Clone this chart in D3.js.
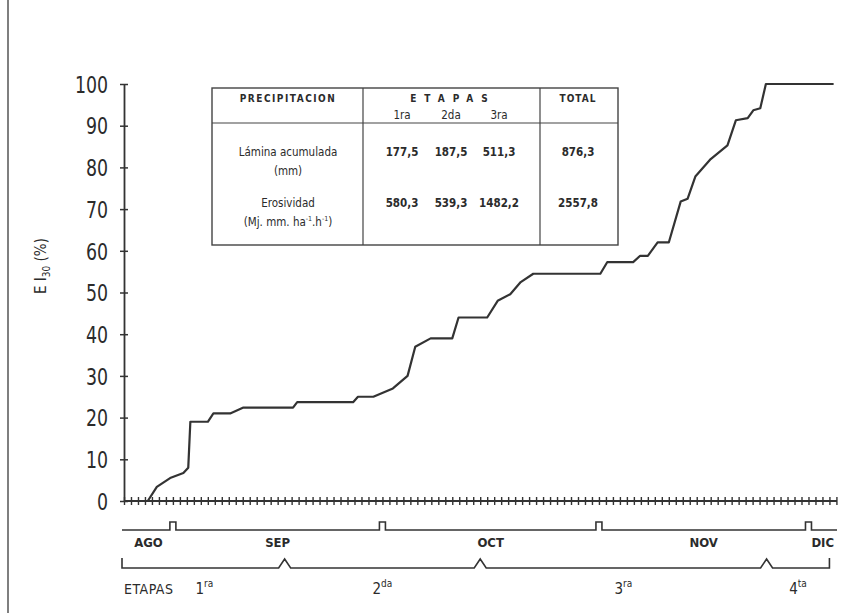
<!DOCTYPE html>
<meta charset="utf-8">
<style>
body { margin: 0; background: #fff; }
text { font-family: "Liberation Sans Narrow", "DejaVu Sans Condensed", "Liberation Sans", sans-serif; fill: #2b2b2b; }
.curve { fill: none; stroke: #333; stroke-width: 2.2px; stroke-linejoin: round; }
.rule { fill: none; stroke: #333; stroke-width: 1.6px; }
</style>
<script src="https://cdn.jsdelivr.net/npm/d3@7"></script>
<body>
<script>

var width = 851,
    height = 613;

// cumulative EI30 (%) ; days counted from Aug 25
var days  = [0, 3.4, 4.7, 6.6, 8.5, 9.2, 9.5, 12.0, 12.8, 15.2, 17.1, 24.2, 24.8, 32.8, 33.5,
             35.7, 38.5, 40.6, 41.7, 43.9, 47.0, 47.9, 52.0, 53.5, 55.3, 56.8, 58.6, 68.2, 69.2, 72.9,
             73.9, 75.0, 76.4, 78.0, 79.7, 80.7, 81.8, 84.0, 86.4, 87.6, 89.3, 90.1, 91.1, 91.9, 101.6];
var eiPct = [0, 0, 3.4, 5.5, 6.7, 8, 19, 19, 21, 21, 22.4, 22.4, 23.7, 23.7, 25,
             25, 27, 30, 37, 39, 39, 44, 44, 48, 49.6, 52.5, 54.5, 54.5, 57.3, 57.3,
             58.8, 58.8, 62, 62, 71.8, 72.5, 77.8, 82, 85.3, 91.3, 91.8, 93.7, 94.2, 100, 100];

var yTicks = [0, 10, 20, 30, 40, 50, 60, 70, 80, 90, 100];
var monthNames = ["AGO", "SEP", "OCT", "NOV", "DIC"];

// stage limits (month, day)
var stageLimits = [[8, 25], [9, 17], [10, 15], [11, 25], [12, 4]];
var stageNum = ["1", "2", "3", "4"];
var stageSup = ["ra", "da", "ra", "ta"];

// table
var tableStages = ["1ra", "2da", "3ra"];
var laminaVals = ["177,5", "187,5", "511,3"];
var laminaTotal = "876,3";
var erosVals = ["580,3", "539,3", "1482,2"];
var erosTotal = "2557,8";

var yr = 1991;
var start = new Date(yr, 7, 25),
    end = new Date(yr, 11, 5, 2);

var svg = d3.select("body")
            .append("svg")
            .attr("width", width)
            .attr("height", height);

// page edge of the scan
svg.append("line")
  .attr("x1", 8).attr("x2", 8).attr("y1", 0).attr("y2", height)
  .attr("stroke", "#555").attr("stroke-width", 1.5);

var x = d3.scaleTime().domain([start, end]).range([124, 837]);
var y = d3.scaleLinear().domain([0, 100]).range([501, 84]);

function dayDate(d) { return new Date(start.getTime() + d * 864e5); }

// y axis
var yAxis = svg.append("g")
  .attr("transform", "translate(124,0)")
  .call(d3.axisLeft(y).tickValues(yTicks).tickSize(0).tickPadding(19));
yAxis.select(".domain").attr("stroke", "#333").attr("stroke-width", 1.8);
yAxis.selectAll(".tick line").attr("x1", -4).attr("x2", 4).attr("stroke", "#333").attr("stroke-width", 1.5);
yAxis.selectAll(".tick text")
  .attr("font-size", 23)
  .attr("dy", "0.36em")
  .attr("transform", "scale(0.84,1)")
  .style("font-family", "'Liberation Sans Narrow','DejaVu Sans Condensed','Liberation Sans',sans-serif");

// y title
var yt = svg.append("text")
  .attr("transform", "translate(46,266) rotate(-90)")
  .attr("text-anchor", "middle")
  .attr("font-size", 15);
yt.append("tspan").text("E I");
yt.append("tspan").attr("font-size", 10).attr("dy", 4).text("30");
yt.append("tspan").attr("dy", -4).text(" (%)");

// daily ticks on the base line
var dayTicks = d3.timeDay.range(start, end);
var xAxis = svg.append("g")
  .attr("transform", "translate(0," + y(0) + ")")
  .call(d3.axisBottom(x).tickValues(dayTicks).tickSize(4).tickFormat(""));
xAxis.select(".domain").attr("stroke", "#333").attr("stroke-width", 1.8).attr("d", "M124,0H837");
xAxis.selectAll(".tick line").attr("y1", -4).attr("stroke", "#333").attr("stroke-width", 1.4);

// curve
var line = d3.line()
  .x(function (d, i) { return x(dayDate(d)); })
  .y(function (d, i) { return y(eiPct[i]); });
svg.append("path")
  .attr("class", "curve")
  .attr("d", line(days));

// month rule with notches
var monthStarts = d3.timeMonth.range(d3.timeMonth.ceil(start), end);
var my = 530;
var mp = "M122," + my;
monthStarts.forEach(function (m) {
  var mx = x(m);
  mp += "H" + (mx - 3) + "V" + (my - 8) + "H" + (mx + 3) + "V" + my;
});
mp += "H837";
svg.append("path").attr("class", "rule").attr("d", mp);

var monthBounds = [start].concat(monthStarts).concat([end]);
svg.selectAll(".month")
  .data(monthNames)
  .enter()
    .append("text")
      .attr("class", "month")
      .attr("x", function (d, i) { return (x(monthBounds[i]) + x(monthBounds[i + 1])) / 2; })
      .attr("y", 547)
      .attr("text-anchor", "middle")
      .attr("font-size", 13)
      .attr("font-weight", "bold")
      .text(function (d) { return d; });

// stage bracket
var stageDates = stageLimits.map(function (s) { return new Date(yr, s[0] - 1, s[1]); });
var by = 568;
var bx0 = x(stageDates[0]) - 2, bx1 = x(stageDates[stageDates.length - 1]);
var bp = "M" + bx0 + "," + (by - 10) + "V" + by;
stageDates.slice(1, -1).forEach(function (s) {
  var sx = x(s);
  bp += "H" + (sx - 6) + "L" + sx + "," + (by - 9) + "L" + (sx + 6) + "," + by;
});
bp += "H" + bx1 + "V" + (by - 10);
svg.append("path").attr("class", "rule").attr("d", bp);

svg.append("text")
  .attr("x", 124).attr("y", 594)
  .attr("font-size", 14)
  .attr("letter-spacing", 0.5)
  .text("ETAPAS");

var st = svg.selectAll(".stage")
  .data(stageNum)
  .enter()
    .append("text")
      .attr("class", "stage")
      .attr("x", function (d, i) { return (x(stageDates[i]) + x(stageDates[i + 1])) / 2; })
      .attr("y", 594)
      .attr("text-anchor", "middle")
      .attr("font-size", 15);
st.append("tspan").text(function (d) { return d; });
st.append("tspan").attr("font-size", 10).attr("dy", -7).text(function (d, i) { return stageSup[i]; });

// table
var tb = svg.append("g").attr("font-size", 11.5);
tb.append("rect")
  .attr("x", 212).attr("y", 88).attr("width", 406).attr("height", 157)
  .attr("fill", "#fff").attr("stroke", "#444").attr("stroke-width", 1.4);
tb.append("line").attr("x1", 212).attr("x2", 618).attr("y1", 123).attr("y2", 123)
  .attr("stroke", "#444").attr("stroke-width", 1.2);
[363, 540].forEach(function (vx) {
  tb.append("line").attr("x1", vx).attr("x2", vx).attr("y1", 88).attr("y2", 245)
    .attr("stroke", "#444").attr("stroke-width", 1.2);
});

var colX = [402, 451, 499], labX = 288, totX = 578;
tb.append("text").attr("x", labX).attr("y", 102).attr("text-anchor", "middle")
  .attr("font-weight", "bold").attr("font-size", 10).attr("letter-spacing", 1.5).text("PRECIPITACION");
tb.append("text").attr("x", 453).attr("y", 102).attr("text-anchor", "middle")
  .attr("font-weight", "bold").attr("font-size", 10).attr("letter-spacing", 8).text("ETAPAS");
tb.append("text").attr("x", totX).attr("y", 102).attr("text-anchor", "middle")
  .attr("font-weight", "bold").attr("font-size", 10).attr("letter-spacing", 1).text("TOTAL");
tb.selectAll(".stg").data(tableStages).enter().append("text")
  .attr("x", function (d, i) { return colX[i]; }).attr("y", 119)
  .attr("text-anchor", "middle").text(function (d) { return d; });

tb.append("text").attr("x", labX).attr("y", 156).attr("text-anchor", "middle").text("Lámina acumulada");
tb.append("text").attr("x", labX).attr("y", 175).attr("text-anchor", "middle").text("(mm)");
tb.selectAll(".lam").data(laminaVals).enter().append("text")
  .attr("x", function (d, i) { return colX[i]; }).attr("y", 156)
  .attr("text-anchor", "middle").attr("font-weight", "bold").text(function (d) { return d; });
tb.append("text").attr("x", totX).attr("y", 156).attr("text-anchor", "middle")
  .attr("font-weight", "bold").text(laminaTotal);

tb.append("text").attr("x", labX).attr("y", 207).attr("text-anchor", "middle").text("Erosividad");
var un = tb.append("text").attr("x", labX).attr("y", 226).attr("text-anchor", "middle");
un.append("tspan").text("(Mj. mm. ha");
un.append("tspan").attr("font-size", 7).attr("dy", -5).text("-1");
un.append("tspan").attr("dy", 5).text(".h");
un.append("tspan").attr("font-size", 7).attr("dy", -5).text("-1");
un.append("tspan").attr("dy", 5).text(")");
tb.selectAll(".ero").data(erosVals).enter().append("text")
  .attr("x", function (d, i) { return colX[i]; }).attr("y", 207)
  .attr("text-anchor", "middle").attr("font-weight", "bold").text(function (d) { return d; });
tb.append("text").attr("x", totX).attr("y", 207).attr("text-anchor", "middle")
  .attr("font-weight", "bold").text(erosTotal);

</script>
</body>
